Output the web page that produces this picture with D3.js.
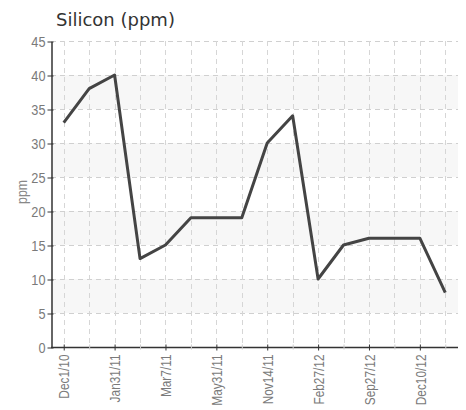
<!DOCTYPE html>
<html><head><meta charset="utf-8">
<script src="https://d3js.org/d3.v7.min.js"></script>
<style>body{margin:0;background:#fff}</style>
</head><body>
<svg id="c" width="466" height="410"></svg>
<script>
const title = "Silicon (ppm)";
const yLabel = "ppm";
const tickLabels = ["Dec1/10","","Jan31/11","","Mar7/11","","May31/11","","Nov14/11","","Feb27/12","","Sep27/12","","Dec10/12",""];
const values = [33,38,40,13,15,19,19,19,30,34,10,15,16,16,16,8];
const yTicks = [0,5,10,15,20,25,30,35,40,45];
const bands = [[5,10],[15,20],[25,30],[35,40]];

const svg = d3.select("#c");
const L = 51, R = 458, T = 41, B = 347;
const font = "'Liberation Sans', Arial, sans-serif";
const x = d3.scalePoint().domain(d3.range(values.length)).range([L, R]).padding(0.5);
const y = d3.scaleLinear().domain([0,45]).range([B, T]);

function condense(sel, k) {
  sel.each(function(){
    const w = this.getComputedTextLength();
    if (w > 0) d3.select(this).attr("textLength", w * k).attr("lengthAdjust","spacingAndGlyphs");
  });
}

svg.append("text").attr("x",56).attr("y",26).text(title)
  .attr("font-family","'DejaVu Sans', sans-serif").attr("font-size",18).attr("fill","#333");

svg.selectAll("rect.band").data(bands).join("rect")
  .attr("x",L).attr("width",R-L).attr("y",d=>y(d[1])).attr("height",d=>y(d[0])-y(d[1])).attr("fill","#f7f7f7");

// horizontal grid
svg.selectAll("line.hg").data(yTicks.filter(d=>d>0)).join("line")
  .attr("x1",L).attr("x2",R).attr("y1",d=>y(d)+0.5).attr("y2",d=>y(d)+0.5)
  .attr("stroke","#d0d0d0").attr("stroke-dasharray","5,4");
// vertical grid
svg.selectAll("line.vg").data(x.domain()).join("line")
  .attr("x1",d=>Math.round(x(d))+0.5).attr("x2",d=>Math.round(x(d))+0.5).attr("y1",T).attr("y2",B)
  .attr("stroke","#d6d6d6").attr("stroke-dasharray","5,4");

// y axis
const ya = svg.append("g").attr("transform",`translate(${L+0.5},0.5)`)
  .call(d3.axisLeft(y).tickValues(yTicks).tickSize(4).tickSizeOuter(0));
ya.select(".domain").attr("stroke","#333").attr("stroke-width",1.5);
ya.selectAll(".tick line").attr("stroke","#333").attr("x2",-4).attr("x1",2);
ya.selectAll(".tick text").attr("font-family",font).attr("font-size",15.5).attr("fill","#7a7a7a").attr("x",-6)
  .call(condense, 0.82);

// x axis
const xa = svg.append("g").attr("transform",`translate(0,${B+0.5})`)
  .call(d3.axisBottom(x).tickFormat(i=>tickLabels[i]).tickSize(4).tickSizeOuter(0));
xa.select(".domain").attr("stroke","#333").attr("stroke-width",1.5).attr("d",`M${L},0H${R}`);
xa.selectAll(".tick line").attr("stroke",i=>tickLabels[i]?"#333":"#ccc").attr("y1",-3).attr("y2",i=>tickLabels[i]?3:2);
xa.selectAll(".tick text").attr("font-family",font).attr("font-size",15).attr("fill","#7a7a7a")
  .attr("transform","rotate(-90)").attr("x",-7).attr("y",0).attr("dy","0.35em").attr("text-anchor","end")
  .call(condense, 0.79);

svg.append("text").attr("transform","translate(27,192) rotate(-90)").attr("text-anchor","middle")
  .text(yLabel).attr("font-family",font).attr("font-size",15).attr("fill","#888")
  .call(condense, 0.82);

svg.append("path").datum(values)
  .attr("d", d3.line().x((d,i)=>x(i)).y(d=>y(d)))
  .attr("fill","none").attr("stroke","#444").attr("stroke-width",3).attr("stroke-linejoin","round");
</script>
</body></html>
